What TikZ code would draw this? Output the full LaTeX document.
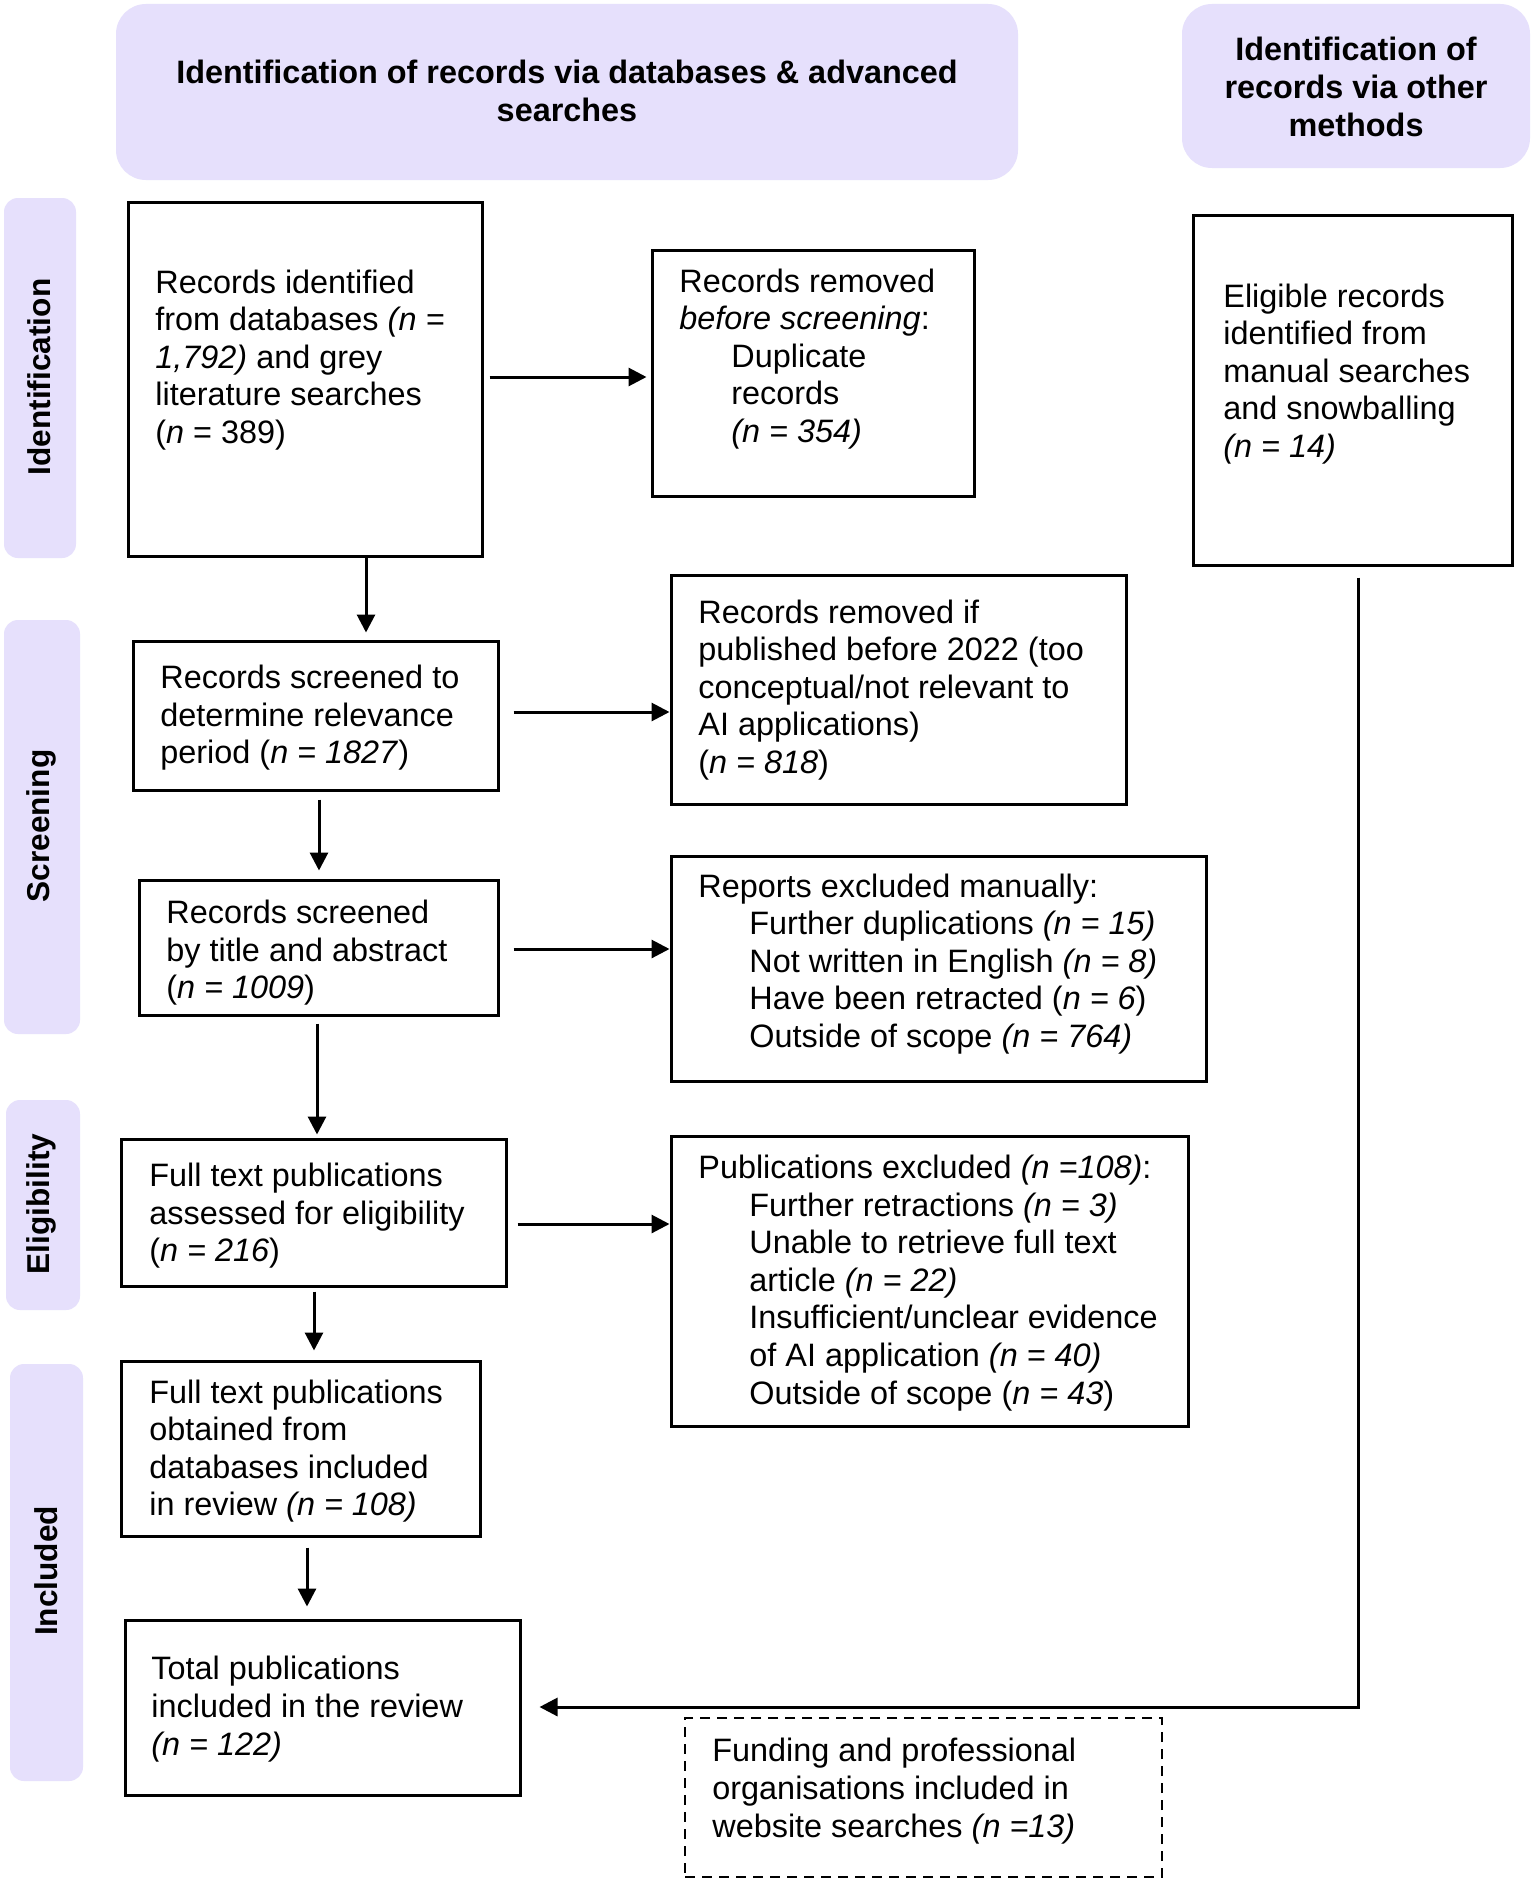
\documentclass[tikz,border=0pt]{standalone}
\usepackage{fontspec}
\setmainfont{Liberation Sans}
\usetikzlibrary{arrows.meta,fit}
\definecolor{lav}{RGB}{230,224,252}
\begin{document}
\begin{tikzpicture}[x=0.5pt,y=-0.5pt,
  box/.style={draw, line width=1.5pt, inner sep=0pt},
  dbox/.style={draw, line width=1pt, dash pattern=on 5pt off 3.5pt, inner sep=0pt},
  hdr/.style={fill=lav, rounded corners=15pt, inner sep=0pt},
  sidebox/.style={fill=lav, rounded corners=7pt, inner sep=0pt},
  txt/.style={anchor=west, align=left, inner sep=0pt, yshift=-2pt, font=\fontsize{16.2pt}{18.8pt}\selectfont},
  htxt/.style={align=center, inner sep=0pt, font=\fontsize{16.2pt}{19pt}\selectfont\bfseries},
  stxt/.style={rotate=90, inner sep=0pt, font=\fontsize{15.8pt}{18pt}\selectfont\bfseries},
  arr/.style={line width=1.5pt, -{Triangle[length=9pt,width=9pt]}}
]
\useasboundingbox (0,0) rectangle (1535,1884);
\fill[white] (0,0) rectangle (1535,1884);

% headers
\node[hdr, fit={(116,4) (1018,180)}] (h1) {};
\node[htxt] (h1t) at (567,91) {Identification of records via databases \& advanced\\searches};
\node[hdr, fit={(1182,4) (1530,168)}] (h2) {};
\node[htxt] (h2t) at (1356,87) {Identification of\\records via other\\methods};

% side bars
\node[sidebox, fit={(4,198) (76,558)}] (s1) {};
\node[stxt] (s1t) at (39,377) {Identification};
\node[sidebox, fit={(4,620) (80,1034)}] (s2) {};
\node[stxt] (s2t) at (41,826) {Screening};
\node[sidebox, fit={(6,1100) (80,1310)}] (s3) {};
\node[stxt] (s3t) at (41,1204) {Eligibility};
\node[sidebox, fit={(10,1364) (83,1781)}] (s4) {};
\node[stxt] (s4t) at (46,1571) {Included};

% boxes
\node[box, fit={(128,202) (482,556)}] (b1) {};
\node[txt] (t1) at (155,356) {Records identified\\from databases \textit{(n =}\\\textit{1,792)} and grey\\literature searches\\(\textit{n} = 389)};

\node[box, fit={(652,250) (974,496)}] (b2) {};
\node[txt] (t2) at (679,355) {Records removed\\\textit{before screening}:\\\hspace*{26pt}Duplicate\\\hspace*{26pt}records\\\hspace*{26pt}\textit{(n = 354)}};

\node[box, fit={(1193,215) (1512,565)}] (b3) {};
\node[txt] (t3) at (1223,370) {Eligible records\\identified from\\manual searches\\and snowballing\\\textit{(n = 14)}};

\node[box, fit={(133,641) (498,790)}] (b4) {};
\node[txt] (t4) at (160,714) {Records screened to\\determine relevance\\period (\textit{n = 1827})};

\node[box, fit={(671,575) (1126,804)}] (b5) {};
\node[txt] (t5) at (698,686) {Records removed if\\published before 2022 (too\\conceptual/not relevant to\\AI applications)\\(\textit{n = 818})};

\node[box, fit={(139,880) (498,1015)}] (b6) {};
\node[txt] (t6) at (166,949) {Records screened\\by title and abstract\\(\textit{n = 1009})};

\node[box, fit={(671,856) (1206,1081)}] (b7) {};
\node[txt] (t7) at (698,960) {Reports excluded manually:\\\hspace*{25.5pt}Further duplications \textit{(n = 15)}\\\hspace*{25.5pt}Not written in English \textit{(n = 8)}\\\hspace*{25.5pt}Have been retracted (\textit{n = 6})\\\hspace*{25.5pt}Outside of scope \textit{(n = 764)}};

\node[box, fit={(121,1139) (506,1286)}] (b8) {};
\node[txt] (t8) at (149,1212) {Full text publications\\assessed for eligibility\\(\textit{n = 216})};

\node[box, fit={(671,1136) (1188,1426)}] (b9) {};
\node[txt] (t9) at (698,1279) {Publications excluded \textit{(n =108)}:\\\hspace*{25.5pt}Further retractions \textit{(n = 3)}\\\hspace*{25.5pt}Unable to retrieve full text\\\hspace*{25.5pt}article \textit{(n = 22)}\\\hspace*{25.5pt}Insufficient/unclear evidence\\\hspace*{25.5pt}of AI application \textit{(n = 40)}\\\hspace*{25.5pt}Outside of scope (\textit{n = 43})};

\node[box, fit={(121,1361) (480,1536)}] (b10) {};
\node[txt] (t10) at (149,1447) {Full text publications\\obtained from\\databases included\\in review \textit{(n = 108)}};

\node[box, fit={(125,1620) (520,1795)}] (b11) {};
\node[txt] (t11) at (151,1705) {Total publications\\included in the review\\\textit{(n = 122)}};

\node[dbox, fit={(685,1718) (1162,1877)}] (b12) {};
\node[txt] (t12) at (712,1787) {Funding and professional\\organisations included in\\website searches \textit{(n =13)}};

% helper coordinates
\coordinate (ya) at (0,377);
\coordinate (yb) at (0,712);
\coordinate (yc) at (0,949);
\coordinate (yd) at (0,1224);
\coordinate (ye) at (0,1707);
\coordinate (xa) at (366,0);
\coordinate (xb) at (319,0);
\coordinate (xc) at (317,0);
\coordinate (xd) at (314,0);
\coordinate (xe) at (307,0);
\coordinate (xf) at (1358,0);
\coordinate (corner) at (1358,1707);

% connectors
\draw[arr, shorten <=3pt, shorten >=2pt] (b1.east |- ya) -- (b2.west |- ya);
\draw[arr, shorten >=3.5pt] (b1.south -| xa) -- (b4.north -| xa);
\draw[arr, shorten <=7pt] (b4.east |- yb) -- (b5.west |- yb);
\draw[arr, shorten <=4pt, shorten >=4pt] (b4.south -| xb) -- (b6.north -| xb);
\draw[arr, shorten <=7pt] (b6.east |- yc) -- (b7.west |- yc);
\draw[arr, shorten <=3.5pt, shorten >=1.5pt] (b6.south -| xc) -- (b8.north -| xc);
\draw[arr, shorten <=5pt] (b8.east |- yd) -- (b9.west |- yd);
\draw[arr, shorten <=2pt, shorten >=4.5pt] (b8.south -| xd) -- (b10.north -| xd);
\draw[arr, shorten <=5pt, shorten >=6pt] (b10.south -| xe) -- (b11.north -| xe);
\draw[arr, shorten <=5.5pt, shorten >=9pt] (b3.south -| xf) -- (corner) -- (b11.east |- ye);
\end{tikzpicture}
\end{document}
